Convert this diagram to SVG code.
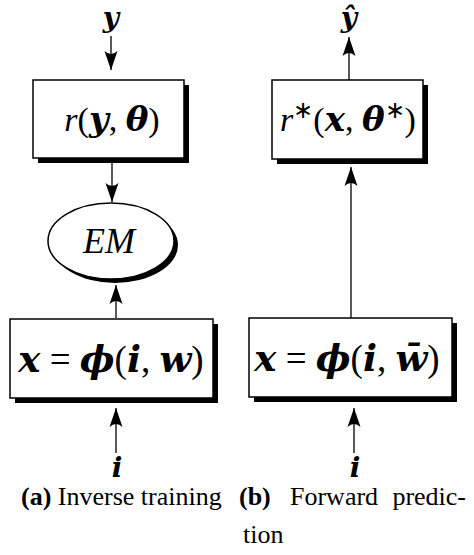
<svg xmlns="http://www.w3.org/2000/svg" width="474" height="555" viewBox="0 0 474 555">
<defs>
<style>
.box{fill:#fff;stroke:#000;stroke-width:1.5}
.sh{fill:#000}
.ln{stroke:#000;stroke-width:1.3;fill:none}
.m{font-family:"Liberation Serif","Times New Roman",serif;fill:#000}
.i{font-style:italic}
.bi{font-family:"DejaVu Serif","Liberation Serif",serif;font-style:italic;font-weight:bold}
.cap{font-family:"Liberation Serif","Times New Roman",serif;font-size:26px;fill:#000}
</style>
<marker id="ah" viewBox="-20 -7 21 14" refX="0" refY="0" markerWidth="21" markerHeight="14" markerUnits="userSpaceOnUse" orient="auto">
<path d="M0,0 L-19,-6.5 Q-13,0 -19,6.5 Z" fill="#000"/>
</marker>
</defs>
<g id="connectors">
<line class="ln" x1="111" y1="36" x2="111" y2="70" marker-end="url(#ah)"/>
<line class="ln" x1="112" y1="163" x2="112" y2="202" marker-end="url(#ah)"/>
<line class="ln" x1="116" y1="318" x2="116" y2="285" marker-end="url(#ah)"/>
<line class="ln" x1="116" y1="453" x2="116" y2="408" marker-end="url(#ah)"/>
<line class="ln" x1="349" y1="80" x2="349" y2="37" marker-end="url(#ah)"/>
<line class="ln" x1="351" y1="318" x2="351" y2="167" marker-end="url(#ah)"/>
<line class="ln" x1="354" y1="453" x2="354" y2="408" marker-end="url(#ah)"/>
</g>
<g id="label-y">
<text class="m bi" x="111" y="27" font-size="28" text-anchor="middle">y</text>
</g>
<g id="node-r">
<rect class="sh" x="38" y="85" width="151" height="78"/>
<rect class="box" x="33" y="80" width="151" height="78"/>
<text class="m" x="112" y="131" font-size="34" text-anchor="middle"><tspan class="i">r</tspan>(<tspan class="bi">y</tspan>, <tspan class="bi">θ</tspan>)</text>
</g>
<g id="node-em">
<ellipse class="sh" cx="115" cy="245" rx="63" ry="38"/>
<ellipse class="box" cx="111" cy="241" rx="63" ry="38"/>
<text class="m i" x="109" y="253" font-size="36" text-anchor="middle">EM</text>
</g>
<g id="node-phi-a">
<rect class="sh" x="15" y="324" width="203" height="79"/>
<rect class="box" x="10" y="319" width="203" height="79"/>
<text class="m" x="111" y="372" font-size="37" text-anchor="middle"><tspan class="bi">x</tspan> = <tspan class="bi">ϕ</tspan>(<tspan class="bi">i</tspan>, <tspan class="bi">w</tspan>)</text>
</g>
<g id="label-i-a">
<text class="m bi" x="117" y="477" font-size="28" text-anchor="middle">i</text>
</g>
<g id="label-yhat">
<text class="m bi" x="349" y="27" font-size="28" text-anchor="middle">ŷ</text>
</g>
<g id="node-rstar">
<rect class="sh" x="277" y="85" width="151" height="79"/>
<rect class="box" x="272" y="80" width="151" height="79"/>
<text class="m" x="348" y="131" font-size="34" text-anchor="middle"><tspan class="i">r</tspan><tspan font-size="24" dy="-13">∗</tspan><tspan dy="13">(</tspan><tspan class="bi">x</tspan>, <tspan class="bi">θ</tspan><tspan font-size="24" dy="-13">∗</tspan><tspan dy="13">)</tspan></text>
</g>
<g id="node-phi-b">
<rect class="sh" x="254" y="323" width="203" height="79"/>
<rect class="box" x="249" y="318" width="203" height="79"/>
<text class="m" x="347" y="371" font-size="37" text-anchor="middle"><tspan class="bi">x</tspan> = <tspan class="bi">ϕ</tspan>(<tspan class="bi">i</tspan>, <tspan class="bi">w̄</tspan>)</text>
</g>
<g id="label-i-b">
<text class="m bi" x="355" y="477" font-size="28" text-anchor="middle">i</text>
</g>
<g id="captions">
<text class="cap" x="21" y="505"><tspan font-weight="bold">(a)</tspan> Inverse training</text>
<text class="cap" x="239" y="505" font-weight="bold">(b)</text>
<text class="cap" x="290" y="505">Forward</text>
<text class="cap" x="466" y="505" text-anchor="end">predic-</text>
<text class="cap" x="243" y="543">tion</text>
</g>
</svg>
